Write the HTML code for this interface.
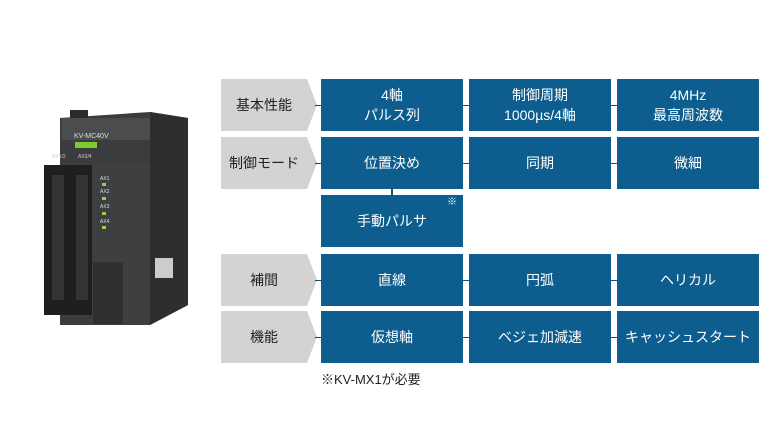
<!DOCTYPE html>
<html><head><meta charset="utf-8"><style>
body{margin:0;width:784px;height:441px;background:#fff;position:relative;overflow:hidden;font-family:"Liberation Sans","Noto Sans CJK JP",sans-serif}
.g{position:absolute;width:96px;height:52px;left:221px;color:#222;font-size:14px;display:flex;align-items:center;justify-content:center;padding-right:10px;box-sizing:border-box}
.g svg{position:absolute;left:0;top:0;z-index:-1}
.b{position:absolute;width:142px;height:52px;background:#0d5e8e;color:#fff;font-size:14px;display:flex;align-items:center;justify-content:center;text-align:center;line-height:20px}
.h{position:absolute;height:1px;background:#0f4f77}
.abs{position:absolute}
</style></head><body>
<svg class="abs" style="left:0;top:0" width="220" height="441">
<polygon points="60,118 150,112 188,118 188,305 150,325 60,325" fill="#3a3c3e"/>
<polygon points="150,112 188,118 188,305 150,325" fill="#2c2e30"/>
<rect x="70" y="110" width="18" height="10" fill="#2a2a2a"/>
<rect x="62" y="118" width="88" height="22" fill="#4a4c4e"/>
<text x="74" y="138" font-size="7" fill="#ddd" font-family="Liberation Sans">KV-MC40V</text>
<rect x="75" y="142" width="22" height="6" fill="#7dcc2e"/>
<text x="52" y="158" font-size="5" fill="#ccc" font-family="Liberation Sans">AX1/2</text>
<text x="78" y="158" font-size="5" fill="#ccc" font-family="Liberation Sans">AX3/4</text>
<rect x="44" y="165" width="26" height="150" fill="#1e1f20"/>
<rect x="70" y="165" width="24" height="150" fill="#1e1f20"/>
<rect x="52" y="175" width="12" height="125" fill="#333"/>
<rect x="76" y="175" width="12" height="125" fill="#333"/>
<rect x="92" y="165" width="58" height="160" fill="#3d3f41"/>
<text x="100" y="180" font-size="5" fill="#ddd" font-family="Liberation Sans">AX1</text>
<rect x="102" y="183" width="4" height="3" fill="#9c4"/>
<text x="100" y="193" font-size="5" fill="#ddd" font-family="Liberation Sans">AX2</text>
<rect x="102" y="197" width="4" height="3" fill="#9c4"/>
<text x="100" y="208" font-size="5" fill="#ddd" font-family="Liberation Sans">AX3</text>
<rect x="102" y="212" width="4" height="3" fill="#9c4"/>
<text x="100" y="223" font-size="5" fill="#ddd" font-family="Liberation Sans">AX4</text>
<rect x="102" y="226" width="4" height="3" fill="#9c4"/>
<rect x="93" y="262" width="30" height="62" fill="#2e3032"/>
<rect x="155" y="258" width="18" height="20" fill="#ccc"/>
</svg>
<div class="g" style="top:79px"><svg width="96" height="52"><polygon points="0,0 86,0 96,26 86,52 0,52" fill="#d3d3d3"/></svg>基本性能</div>
<div class="g" style="top:137px"><svg width="96" height="52"><polygon points="0,0 86,0 96,26 86,52 0,52" fill="#d3d3d3"/></svg>制御モード</div>
<div class="g" style="top:254px"><svg width="96" height="52"><polygon points="0,0 86,0 96,26 86,52 0,52" fill="#d3d3d3"/></svg>補間</div>
<div class="g" style="top:311px"><svg width="96" height="52"><polygon points="0,0 86,0 96,26 86,52 0,52" fill="#d3d3d3"/></svg>機能</div>

<div class="h" style="left:315px;width:6px;top:105px"></div><div class="h" style="left:463px;width:6px;top:105px"></div><div class="h" style="left:611px;width:6px;top:105px"></div>
<div class="h" style="left:315px;width:6px;top:163px"></div><div class="h" style="left:463px;width:6px;top:163px"></div><div class="h" style="left:611px;width:6px;top:163px"></div>
<div class="h" style="left:315px;width:6px;top:280px"></div><div class="h" style="left:463px;width:6px;top:280px"></div><div class="h" style="left:611px;width:6px;top:280px"></div>
<div class="h" style="left:315px;width:6px;top:337px"></div><div class="h" style="left:463px;width:6px;top:337px"></div><div class="h" style="left:611px;width:6px;top:337px"></div>
<div class="abs" style="left:391px;top:189px;width:2px;height:6px;background:#0f4f77"></div>

<div class="b" style="left:321px;top:79px">4軸<br>パルス列</div>
<div class="b" style="left:469px;top:79px">制御周期<br>1000µs/4軸</div>
<div class="b" style="left:617px;top:79px">4MHz<br>最高周波数</div>
<div class="b" style="left:321px;top:137px">位置決め</div>
<div class="b" style="left:469px;top:137px">同期</div>
<div class="b" style="left:617px;top:137px">微細</div>
<div class="b" style="left:321px;top:195px">手動パルサ<span style="position:absolute;right:6px;top:2px;font-size:10px;line-height:12px">※</span></div>
<div class="b" style="left:321px;top:254px">直線</div>
<div class="b" style="left:469px;top:254px">円弧</div>
<div class="b" style="left:617px;top:254px">ヘリカル</div>
<div class="b" style="left:321px;top:311px">仮想軸</div>
<div class="b" style="left:469px;top:311px">ベジェ加減速</div>
<div class="b" style="left:617px;top:311px">キャッシュスタート</div>
<div class="abs" style="left:321px;top:369px;font-size:13px;color:#222">※KV-MX1が必要</div>
</body></html>
